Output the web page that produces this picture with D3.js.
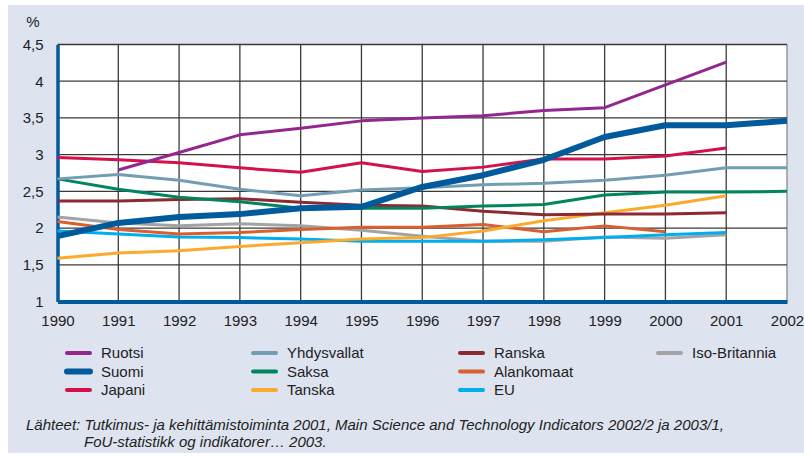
<!DOCTYPE html>
<html>
<head>
<meta charset="utf-8">
<script src="https://cdn.jsdelivr.net/npm/d3@7"></script>
<style>
  body { margin: 0; background: #fff; }
  svg text { font-family: "Liberation Sans Narrow", "Liberation Sans", sans-serif; fill: #222; }
</style>
</head>
<body>
<div id="chart"></div>
<script>
// years on the x axis
const years = [1990, 1991, 1992, 1993, 1994, 1995, 1996, 1997, 1998, 1999, 2000, 2001, 2002]
const yTicks = [1, 1.5, 2, 2.5, 3, 3.5, 4, 4.5]

// R&D spending as % of GDP, null where no value
const ruotsi = [null, 2.79, 3.03, 3.27, 3.36, 3.46, 3.50, 3.53, 3.60, 3.64, 3.95, 4.26, null]
const suomi = [1.89, 2.07, 2.15, 2.19, 2.27, 2.29, 2.56, 2.72, 2.93, 3.24, 3.40, 3.40, 3.46]
const japani = [2.96, 2.93, 2.89, 2.82, 2.76, 2.89, 2.77, 2.83, 2.94, 2.94, 2.98, 3.09, null]
const yhdysvallat = [2.67, 2.73, 2.65, 2.53, 2.44, 2.52, 2.55, 2.59, 2.61, 2.65, 2.72, 2.82, 2.82]
const saksa = [2.67, 2.53, 2.42, 2.36, 2.27, 2.27, 2.27, 2.30, 2.32, 2.45, 2.49, 2.49, 2.50]
const tanska = [1.59, 1.66, 1.69, 1.75, 1.80, 1.85, 1.87, 1.96, 2.10, 2.21, 2.31, 2.44, null]
const ranska = [2.37, 2.37, 2.39, 2.40, 2.35, 2.31, 2.30, 2.23, 2.18, 2.19, 2.19, 2.21, null]
const alankomaat = [2.09, 1.98, 1.92, 1.94, 1.98, 2.01, 2.01, 2.05, 1.95, 2.03, 1.95, null, null]
const isoBritannia = [2.15, 2.07, 2.03, 2.06, 2.03, 1.97, 1.89, 1.82, 1.82, 1.88, 1.86, 1.91, null]
const eu = [1.96, 1.92, 1.88, 1.87, 1.85, 1.82, 1.82, 1.82, 1.84, 1.87, 1.91, 1.94, null]

const series = [
  { name: 'Iso-Britannia', values: isoBritannia, color: '#a3a3a5', width: 3 },
  { name: 'EU', values: eu, color: '#00aeef', width: 3 },
  { name: 'Alankomaat', values: alankomaat, color: '#d8602e', width: 3 },
  { name: 'Tanska', values: tanska, color: '#fbaa2e', width: 3 },
  { name: 'Ranska', values: ranska, color: '#8c2a33', width: 3 },
  { name: 'Saksa', values: saksa, color: '#00855f', width: 3 },
  { name: 'Yhdysvallat', values: yhdysvallat, color: '#729db3', width: 3 },
  { name: 'Japani', values: japani, color: '#d3124b', width: 3 },
  { name: 'Ruotsi', values: ruotsi, color: '#93278f', width: 3 },
  { name: 'Suomi', values: suomi, color: '#005a9c', width: 6 },
]

// legend layout: columns of names
const legendColumns = [
  ['Ruotsi', 'Suomi', 'Japani'],
  ['Yhdysvallat', 'Saksa', 'Tanska'],
  ['Ranska', 'Alankomaat', 'EU'],
  ['Iso-Britannia'],
]

const sourceLines = [
  'Lähteet: Tutkimus- ja kehittämistoiminta 2001, Main Science and Technology Indicators 2002/2 ja 2003/1,',
  'FoU-statistikk og indikatorer… 2003.',
]

const W = 804, H = 458
const svg = d3.select('#chart').append('svg').attr('width', W).attr('height', H)

svg.append('rect').attr('x', 8).attr('y', 5).attr('width', W - 8).attr('height', 448).attr('fill', '#dde3ef')

const x = d3.scaleLinear().domain([1990, 2002]).range([57.5, 787])
const y = d3.scaleLinear().domain([1, 4.5]).range([301.5, 44.5])

svg.append('rect')
  .attr('x', x(1990)).attr('y', y(4.5))
  .attr('width', x(2002) - x(1990)).attr('height', y(1) - y(4.5))
  .attr('fill', '#fff')

// grid
const grid = svg.append('g')
grid.selectAll('line.v').data(years.slice(1)).enter().append('line')
  .attr('x1', (d) => x(d)).attr('x2', (d) => x(d))
  .attr('y1', y(4.5)).attr('y2', y(1))
  .attr('stroke', (d) => (d === 2002 ? '#8a8a8a' : '#3a3a3a')).attr('stroke-width', 1.3)
grid.selectAll('line.h').data(yTicks.slice(1)).enter().append('line')
  .attr('x1', x(1990)).attr('x2', x(2002))
  .attr('y1', (d) => y(d)).attr('y2', (d) => y(d))
  .attr('stroke', '#3a3a3a').attr('stroke-width', 1.3)

// axes
const yAxis = svg.append('g').attr('transform', `translate(${x(1990)},0)`)
  .call(d3.axisLeft(y).tickValues(yTicks).tickSize(0).tickPadding(14)
    .tickFormat((d) => String(d).replace('.', ',')))
yAxis.select('.domain').attr('stroke', '#005a9c').attr('stroke-width', 3.5)
yAxis.selectAll('text').style('font-size', '15px')

const xAxis = svg.append('g').attr('transform', `translate(0,${y(1)})`)
  .call(d3.axisBottom(x).tickValues(years).tickSize(0).tickPadding(14).tickFormat(d3.format('d')))
xAxis.select('.domain').attr('stroke', '#005a9c').attr('stroke-width', 4)
xAxis.selectAll('text').style('font-size', '15px')

svg.append('text').attr('x', 33).attr('y', 27).attr('text-anchor', 'middle')
  .style('font-size', '15px').text('%')

// lines
const line = d3.line()
  .defined((d) => d != null)
  .x((d, i) => x(years[i]))
  .y((d) => y(d))

svg.append('g').selectAll('path').data(series).enter().append('path')
  .attr('d', (d) => line(d.values))
  .attr('fill', 'none')
  .attr('stroke', (d) => d.color)
  .attr('stroke-width', (d) => d.width)
  .attr('stroke-linejoin', 'round')

// legend
const colX = [67, 253, 460, 658]
const rowY = [353, 371.5, 390]
const byName = new Map(series.map((s) => [s.name, s]))
legendColumns.forEach((col, ci) => {
  col.forEach((name, ri) => {
    const s = byName.get(name)
    const g = svg.append('g').attr('transform', `translate(${colX[ci]},${rowY[ri]})`)
    g.append('line').attr('x1', 0).attr('x2', 23).attr('y1', 0).attr('y2', 0)
      .attr('stroke', s.color).attr('stroke-width', s.width === 6 ? 6 : 4)
      .attr('stroke-linecap', 'round')
    g.append('text').attr('x', 34).attr('y', 0).attr('dy', '0.35em')
      .style('font-size', '15px').text(name)
  })
})

// source
svg.append('text').attr('x', 26).attr('y', 430)
  .style('font-size', '15px').style('font-style', 'italic').text(sourceLines[0])
svg.append('text').attr('x', 84).attr('y', 447)
  .style('font-size', '15px').style('font-style', 'italic').text(sourceLines[1])
</script>
</body>
</html>
